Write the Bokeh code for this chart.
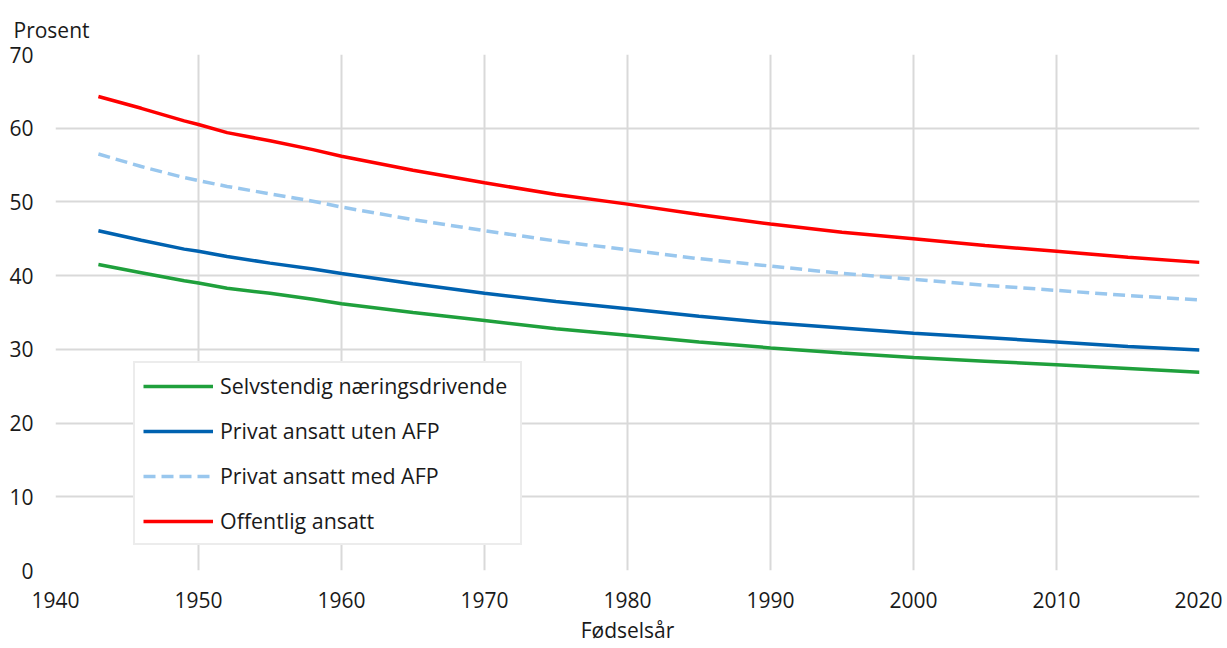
from bokeh.plotting import figure
from bokeh.models import Range1d, FixedTicker, Legend, LegendItem
from bokeh.embed import file_html
from bokeh.resources import INLINE

years = [1943, 1946, 1949, 1950, 1952, 1955, 1958, 1960, 1965, 1970, 1975,
         1980, 1985, 1990, 1995, 2000, 2005, 2010, 2015, 2020]
selvstendig = [41.5, 40.4, 39.3, 39.0, 38.3, 37.6, 36.8, 36.2, 35.0, 33.9, 32.8,
               31.9, 31.0, 30.2, 29.5, 28.9, 28.4, 27.9, 27.4, 26.9]
privat_uten = [46.1, 44.8, 43.6, 43.3, 42.6, 41.7, 40.9, 40.3, 38.9, 37.6, 36.5,
               35.5, 34.5, 33.6, 32.9, 32.2, 31.6, 31.0, 30.4, 29.9]
privat_med = [56.5, 54.8, 53.3, 52.9, 52.1, 51.1, 50.1, 49.3, 47.6, 46.1, 44.7,
              43.5, 42.3, 41.3, 40.3, 39.5, 38.7, 38.0, 37.3, 36.7]
offentlig = [64.3, 62.7, 61.0, 60.5, 59.4, 58.3, 57.1, 56.2, 54.3, 52.6, 51.0,
             49.7, 48.3, 47.0, 45.9, 45.0, 44.1, 43.3, 42.5, 41.8]

series_names = ["Selvstendig næringsdrivende", "Privat ansatt uten AFP",
                "Privat ansatt med AFP", "Offentlig ansatt"]
x_ticks = [1940, 1950, 1960, 1970, 1980, 1990, 2000, 2010, 2020]
y_ticks = [0, 10, 20, 30, 40, 50, 60, 70]
y_label = "Prosent"
x_label = "Fødselsår"

FONT = "Open Sans"
TXT = "#1a1a1a"
GRID = "#d9d9d9"

p = figure(width=1222, height=648, output_backend="svg", toolbar_location=None,
           x_range=Range1d(1940, 2020), y_range=Range1d(0, 70),
           min_border_left=55, min_border_right=23, min_border_top=54,
           min_border_bottom=78)
p.outline_line_color = None
p.background_fill_color = "white"
p.border_fill_color = "white"

p.title.text = y_label
p.title.align = "left"
p.title.vertical_align = "top"
p.title.offset = -42
p.title.text_font = FONT
p.title.text_font_size = "21px"
p.title.text_font_style = "normal"
p.title.text_color = TXT
p.title.standoff = 17

for ax in (p.xaxis[0], p.yaxis[0]):
    ax.axis_line_color = None
    ax.major_tick_line_color = None
    ax.minor_tick_line_color = None
    ax.major_tick_out = 0
    ax.major_tick_in = 0
    ax.major_label_text_font = FONT
    ax.major_label_text_font_size = "21px"
    ax.major_label_text_color = TXT

p.xaxis.ticker = FixedTicker(ticks=x_ticks)
p.yaxis.ticker = FixedTicker(ticks=y_ticks)
p.xaxis.major_label_standoff = 21
p.yaxis.major_label_standoff = 22
p.xaxis.axis_label = x_label
p.xaxis.axis_label_text_font = FONT
p.xaxis.axis_label_text_font_size = "21px"
p.xaxis.axis_label_text_font_style = "normal"
p.xaxis.axis_label_text_color = TXT
p.xaxis.axis_label_standoff = 5

p.xgrid.ticker = FixedTicker(ticks=x_ticks)
p.ygrid.ticker = FixedTicker(ticks=y_ticks)
for g in (p.xgrid[0], p.ygrid[0]):
    g.grid_line_color = GRID
    g.grid_line_width = 2

r1 = p.line(years, selvstendig, line_color="#1fa03c", line_width=3.5)
r2 = p.line(years, privat_uten, line_color="#0062b0", line_width=3.5)
r3 = p.line(years, privat_med, line_color="#99c7ee", line_width=3.5, line_dash="12 6")
r4 = p.line(years, offentlig, line_color="#ff0000", line_width=3.5)

legend = Legend(items=[LegendItem(label=series_names[0], renderers=[r1]),
                       LegendItem(label=series_names[1], renderers=[r2]),
                       LegendItem(label=series_names[2], renderers=[r3]),
                       LegendItem(label=series_names[3], renderers=[r4])],
                location=(78, 25), orientation="vertical")
legend.label_text_font = FONT
legend.label_text_font_size = "21.4px"
legend.label_text_line_height = 1.0
legend.label_text_color = TXT
legend.glyph_width = 70
legend.glyph_height = 20
legend.label_height = 20
legend.label_width = 292
legend.label_standoff = 7
legend.spacing = 16
legend.padding = 8
legend.margin = 0
legend.border_line_color = GRID
legend.border_line_width = 2
legend.background_fill_alpha = 1
legend.background_fill_color = "white"
p.add_layout(legend, "center")

open("out.html", "w").write(file_html(p, INLINE))
